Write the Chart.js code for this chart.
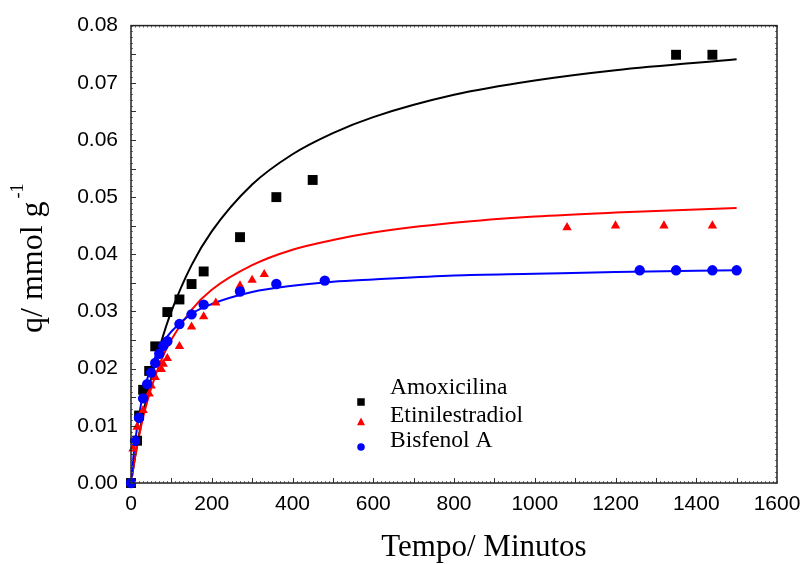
<!DOCTYPE html>
<html>
<head>
<meta charset="utf-8">
<script src="https://cdn.jsdelivr.net/npm/chart.js@4.4.1/dist/chart.umd.min.js"></script>
<style>
  html, body { margin: 0; padding: 0; background: #fff; }
  #wrap { width: 803px; height: 564px; }
</style>
</head>
<body>
<div id="wrap"><canvas id="kinetics" width="803" height="564"></canvas></div>
<script>
'use strict';

// measured points: time (min) and q (mmol g-1)
var amoxTime = [0, 15, 20, 30, 45, 60, 90, 120, 150, 180, 270, 360, 450, 1350, 1440];
var amoxQ    = [0, 0.0074, 0.0118, 0.0163, 0.0196, 0.0239, 0.0299, 0.0321, 0.0348, 0.0370, 0.0430, 0.0500, 0.0530, 0.0749, 0.0749];

var etinTime = [0, 5, 15, 30, 45, 50, 60, 75, 80, 90, 120, 150, 180, 210, 270, 300, 330, 1080, 1200, 1320, 1440];
var etinQ    = [0, 0.0060, 0.0098, 0.0127, 0.0156, 0.0170, 0.0185, 0.0199, 0.0208, 0.0218, 0.0239, 0.0273, 0.0291, 0.0315, 0.0345, 0.0355, 0.0365, 0.0447, 0.0450, 0.0450, 0.0450];

var bisTime = [0, 10, 20, 30, 40, 50, 60, 70, 80, 90, 120, 150, 180, 270, 360, 480, 1260, 1350, 1440, 1500];
var bisQ    = [0, 0.0074, 0.0114, 0.0148, 0.0173, 0.0193, 0.0210, 0.0226, 0.0240, 0.0248, 0.0278, 0.0295, 0.0312, 0.0335, 0.0348, 0.0354, 0.0372, 0.0372, 0.0372, 0.0372];

// fitted curves
var fitTime = [0, 5, 10, 20, 30, 50, 75, 100, 150, 200, 300, 400, 500, 600, 800, 1000, 1200, 1500];
var amoxFit = [0, 0.0023, 0.0045, 0.0085, 0.0121, 0.0183, 0.0247, 0.0300, 0.0381, 0.0440, 0.0522, 0.0575, 0.0612, 0.0640, 0.0679, 0.0704, 0.0722, 0.0741];
var etinFit = [0, 0.0023, 0.0045, 0.0082, 0.0115, 0.0166, 0.0215, 0.0251, 0.0303, 0.0338, 0.0381, 0.0408, 0.0425, 0.0438, 0.0455, 0.0466, 0.0473, 0.0481];
var bisFit  = [0, 0.0039, 0.0071, 0.0119, 0.0155, 0.0203, 0.0241, 0.0265, 0.0296, 0.0313, 0.0334, 0.0345, 0.0352, 0.0356, 0.0363, 0.0366, 0.0369, 0.0372];

var xTicks = [0, 200, 400, 600, 800, 1000, 1200, 1400, 1600];
var yTicks = [0, 0.01, 0.02, 0.03, 0.04, 0.05, 0.06, 0.07, 0.08];

var legendNames = ['Amoxicilina', 'Etinilestradiol', 'Bisfenol A'];
var xTitle = 'Tempo/ Minutos';
var yTitle = 'q/ mmol g';
var ySup = '-1';

function pts(xs, ys) {
  return xs.map(function (v, i) { return { x: v, y: ys[i] }; });
}

function marker(ctx, style, x, y, s) {
  ctx.beginPath();
  if (style === 'rect') {
    ctx.rect(x - s / 2, y - s / 2, s, s);
  } else if (style === 'triangle') {
    ctx.moveTo(x, y - s * 0.55);
    ctx.lineTo(x + s / 2, y + s * 0.4);
    ctx.lineTo(x - s / 2, y + s * 0.4);
    ctx.closePath();
  } else {
    ctx.arc(x, y, s / 2, 0, Math.PI * 2);
  }
  ctx.fill();
}

// box, inward ticks, axis titles and legend
var decor = {
  id: 'decor',
  afterDraw: function (chart) {
    var ctx = chart.ctx, a = chart.chartArea;
    var xs = chart.scales.x, ys = chart.scales.y;
    var t, p;
    ctx.save();

    ctx.strokeStyle = '#777';
    ctx.lineWidth = 1;
    ctx.beginPath();
    for (t = 0; t <= 1600; t += 10) {
      p = Math.round(xs.getPixelForValue(t)) + 0.5;
      ctx.moveTo(p, a.bottom); ctx.lineTo(p, a.bottom - 2);
      ctx.moveTo(p, a.top); ctx.lineTo(p, a.top + 2);
    }
    for (t = 0; t <= 80; t += 1) {
      p = Math.round(ys.getPixelForValue(t / 1000)) + 0.5;
      ctx.moveTo(a.left, p); ctx.lineTo(a.left + 2, p);
      ctx.moveTo(a.right, p); ctx.lineTo(a.right - 2, p);
    }
    ctx.stroke();

    ctx.strokeStyle = '#333';
    ctx.beginPath();
    for (t = 100; t < 1600; t += 100) {
      p = Math.round(xs.getPixelForValue(t)) + 0.5;
      ctx.moveTo(p, a.bottom); ctx.lineTo(p, a.bottom - 5);
    }
    for (t = 1; t < 16; t++) {
      p = Math.round(ys.getPixelForValue(t * 0.005)) + 0.5;
      ctx.moveTo(a.left, p); ctx.lineTo(a.left + 5, p);
    }
    ctx.stroke();

    ctx.strokeStyle = '#222';
    ctx.lineWidth = 1.5;
    ctx.strokeRect(a.left, a.top, a.right - a.left, a.bottom - a.top);

    // axis titles
    ctx.fillStyle = '#000';
    ctx.font = '31px "Liberation Serif"';
    ctx.textAlign = 'center';
    ctx.textBaseline = 'alphabetic';
    ctx.fillText(xTitle, 484, 556);

    ctx.translate(42, 333);
    ctx.rotate(-Math.PI / 2);
    ctx.textAlign = 'left';
    ctx.font = '32px "Liberation Serif"';
    ctx.fillText(yTitle, 0, 0);
    var w = ctx.measureText(yTitle).width;
    ctx.font = '18px "Liberation Serif"';
    ctx.fillText(ySup, w + 3, -19);
    ctx.setTransform(1, 0, 0, 1, 0, 0);

    // legend
    var styles = ['rect', 'triangle', 'circle'];
    var colors = ['#000000', '#ff0000', '#0000ff'];
    var markY = [402, 422, 447];
    var textY = [388, 415.5, 441];
    var sizes = [7.5, 8, 7.5];
    ctx.font = '23.5px "Liberation Serif"';
    ctx.textBaseline = 'middle';
    for (var i = 0; i < 3; i++) {
      ctx.fillStyle = colors[i];
      marker(ctx, styles[i], 361, markY[i], sizes[i]);
      ctx.fillStyle = '#000';
      ctx.fillText(legendNames[i], 390, textY[i]);
    }
    ctx.restore();
  }
};

var fitLine = function (data, color, order) {
  return {
    data: pts(fitTime, data), showLine: true, borderColor: color, borderWidth: 2,
    pointRadius: 0, cubicInterpolationMode: 'monotone', order: order, fill: false
  };
};

var dots = function (xs, ys, style, r, color, order) {
  return {
    data: pts(xs, ys), showLine: false, pointStyle: style, pointRadius: r,
    pointBackgroundColor: color, pointBorderWidth: 0, pointHoverRadius: r,
    order: order, clip: false
  };
};

new Chart(document.getElementById('kinetics').getContext('2d'), {
  type: 'scatter',
  data: {
    datasets: [
      dots(bisTime, bisQ, 'circle', 5.2, '#0000ff', 0),
      dots(etinTime, etinQ, 'triangle', 5.4, '#ff0000', 1),
      dots(amoxTime, amoxQ, 'rect', 7, '#000000', 2),
      fitLine(bisFit, '#0000ff', 3),
      fitLine(etinFit, '#ff0000', 4),
      fitLine(amoxFit, '#000000', 5)
    ]
  },
  options: {
    responsive: false,
    animation: false,
    devicePixelRatio: 1,
    layout: { padding: { top: 23, right: 26, left: 0, bottom: 0 } },
    plugins: { legend: { display: false }, tooltip: { enabled: false } },
    scales: {
      x: {
        type: 'linear', min: 0, max: 1600,
        grid: { display: false, drawTicks: false }, border: { display: false },
        ticks: {
          font: { family: 'Liberation Sans', size: 21 }, color: '#000', padding: 9, maxRotation: 0, autoSkip: false,
          callback: function (v) { return String(v); }
        },
        afterBuildTicks: function (s) { s.ticks = xTicks.map(function (v) { return { value: v }; }); },
        afterFit: function (s) { s.height = 81; s.paddingRight = 0; s.paddingLeft = 0; }
      },
      y: {
        type: 'linear', min: 0, max: 0.08,
        grid: { display: false, drawTicks: false }, border: { display: false },
        ticks: {
          font: { family: 'Liberation Sans', size: 21 }, color: '#000', padding: 13,
          callback: function (v) { return v.toFixed(2); }
        },
        afterBuildTicks: function (s) { s.ticks = yTicks.map(function (v) { return { value: v }; }); },
        afterFit: function (s) { s.width = 131; }
      }
    }
  },
  plugins: [decor]
});
</script>
</body>
</html>
